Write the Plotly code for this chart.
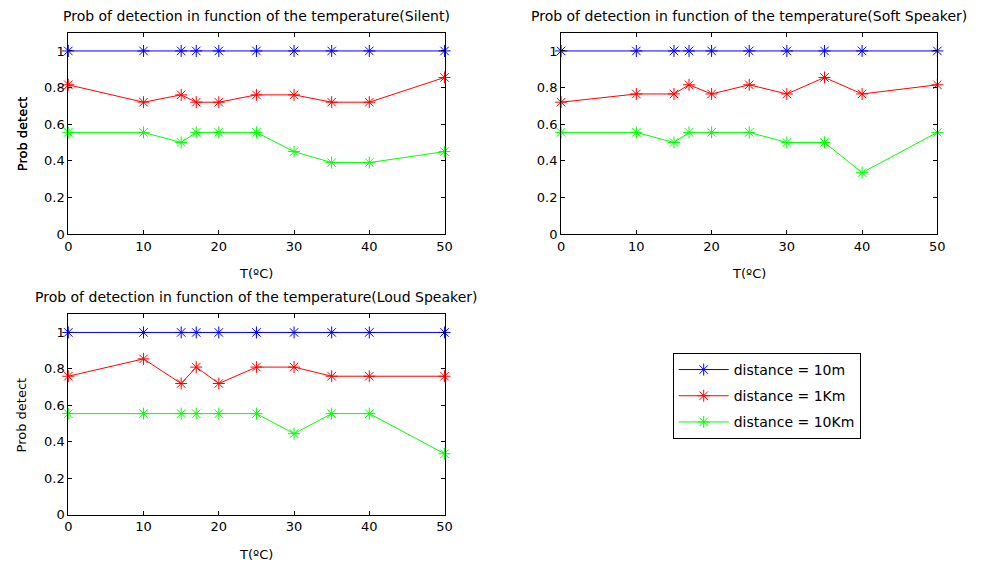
import plotly.graph_objects as go

temps = [0, 10, 15, 17, 20, 25, 30, 35, 40, 50]

silent_10m = [1, 1, 1, 1, 1, 1, 1, 1, 1, 1]
silent_1km = [0.815, 0.72, 0.76, 0.72, 0.72, 0.76, 0.76, 0.72, 0.72, 0.855]
silent_10km = [0.555, 0.555, 0.5, 0.555, 0.555, 0.555, 0.45, 0.39, 0.39, 0.45]

soft_10m = [1, 1, 1, 1, 1, 1, 1, 1, 1, 1]
soft_1km = [0.72, 0.765, 0.765, 0.815, 0.765, 0.815, 0.765, 0.855, 0.765, 0.815]
soft_10km = [0.555, 0.555, 0.5, 0.555, 0.555, 0.555, 0.5, 0.5, 0.335, 0.555]

loud_10m = [1, 1, 1, 1, 1, 1, 1, 1, 1, 1]
loud_1km = [0.76, 0.855, 0.72, 0.81, 0.72, 0.81, 0.81, 0.76, 0.76, 0.76]
loud_10km = [0.555, 0.555, 0.555, 0.555, 0.555, 0.555, 0.445, 0.555, 0.555, 0.335]

series_names = ["distance = 10m", "distance = 1Km", "distance = 10Km"]
series_colors = ["#0000ff", "#ff0000", "#00ff00"]
panel_titles = [
    "Prob of detection in function of the temperature(Silent)",
    "Prob of detection in function of the temperature(Soft Speaker)",
    "Prob of detection in function of the temperature(Loud Speaker)",
]
panels = [
    [silent_10m, silent_1km, silent_10km],
    [soft_10m, soft_1km, soft_10km],
    [loud_10m, loud_1km, loud_10km],
]

OFF = 8  # page body margin
W, H = 982 - 2 * OFF, 569 - 2 * OFF
FONT = "DejaVu Sans, Verdana, sans-serif"


def px_x(p):
    return (p - OFF) / W


def px_y(p):
    return 1 - (p - OFF) / H


# page-pixel boxes (left, right, top, bottom)
boxes = [(65, 446, 33, 237.3), (564, 945, 33, 237.3), (65, 446, 318.7, 522.3)]

fig = go.Figure()
annotations = []
for i, (data, title, box) in enumerate(zip(panels, panel_titles, boxes)):
    xa = "x" if i == 0 else f"x{i+1}"
    ya = "y" if i == 0 else f"y{i+1}"
    for j, vals in enumerate(data):
        fig.add_trace(go.Scatter(
            x=temps, y=vals, mode="lines+markers",
            name=series_names[j],
            legendgroup=f"g{j}",
            line=dict(color=series_colors[j], width=1),
            marker=dict(symbol="asterisk-open", size=10,
                        line=dict(color=series_colors[j], width=1)),
            cliponaxis=False,
            showlegend=(i == 2),
            xaxis=xa, yaxis=ya,
        ))
    l, r, t, b = box
    axcommon = dict(showgrid=False, zeroline=False, showline=True, linecolor="black",
                    linewidth=1, mirror="ticks", ticks="inside", ticklen=4,
                    tickcolor="black", tickfont=dict(family=FONT, size=13, color="black"))
    fig.layout[("xaxis" if i == 0 else f"xaxis{i+1}")] = dict(
        domain=[px_x(l), px_x(r)], range=[0, 50], tickvals=[0, 10, 20, 30, 40, 50],
        anchor=ya, **axcommon)
    fig.layout[("yaxis" if i == 0 else f"yaxis{i+1}")] = dict(
        domain=[px_y(b), px_y(t)], range=[0, 1.1], tickvals=[0, 0.2, 0.4, 0.6, 0.8, 1],
        anchor=xa, **axcommon)
    annotations.append(dict(text=title, x=px_x((l + r) / 2), y=px_y(t - 17),
                            xref="paper", yref="paper", showarrow=False,
                            xanchor="center", yanchor="middle",
                            font=dict(family=FONT, size=14, color="black")))
    annotations.append(dict(text="T(ºC)", x=px_x((l + r) / 2), y=px_y(b + 40),
                            xref="paper", yref="paper", showarrow=False,
                            xanchor="center", yanchor="middle",
                            font=dict(family=FONT, size=13, color="black")))
    annotations.append(dict(text="Prob detect", x=px_x(18), y=px_y((t + b) / 2),
                            xref="paper", yref="paper", showarrow=False, textangle=-90,
                            xanchor="center", yanchor="middle",
                            font=dict(family=FONT, size=13, color="black")))

fig.update_layout(
    width=W, height=H, margin=dict(l=0, r=0, t=0, b=0),
    paper_bgcolor="white", plot_bgcolor="white",
    annotations=annotations,
    legend=dict(x=px_x(677), y=px_y(358), xanchor="left", yanchor="top",
                bordercolor="black", borderwidth=1, bgcolor="white",
                font=dict(family=FONT, size=14, color="black"),
                itemwidth=50, tracegroupgap=5),
)

fig.write_html("out.html")
